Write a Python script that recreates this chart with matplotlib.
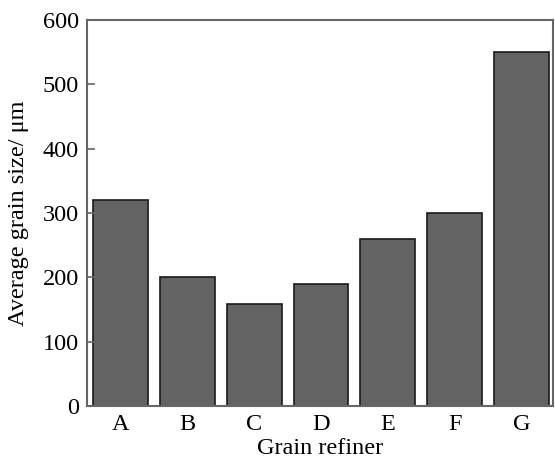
import matplotlib.pyplot as plt

refiners = ['A', 'B', 'C', 'D', 'E', 'F', 'G']
grain_size = [320, 200, 158, 190, 260, 300, 550]

plt.rcParams['font.family'] = ['Liberation Serif', 'DejaVu Serif']

fig = plt.figure(figsize=(5.55, 4.61), dpi=100)
ax = fig.add_axes([87 / 555, 1 - 406 / 461, (553 - 87) / 555, (406 - 20) / 461])

x = range(len(refiners))
ax.bar(x, grain_size, width=0.82, color='#636363', edgecolor='#1a1a1a', linewidth=1.2)

ax.set_xlim(-0.5, 6.47)
ax.set_ylim(0, 600)
ax.set_yticks(range(0, 601, 100))
ax.set_xticks(list(x))
ax.set_xticklabels(refiners)

for s in ax.spines.values():
    s.set_color('#666666')
    s.set_linewidth(1.5)

ax.tick_params(axis='y', direction='in', length=6, width=1.2, color='#666666', labelsize=17.5, pad=6)
ax.tick_params(axis='x', length=0, labelsize=17.5, pad=6)

ax.set_xlabel('Grain refiner', fontsize=17.5, labelpad=2)
ax.set_ylabel('Average grain size/ μm', fontsize=17.5, labelpad=10)

fig.savefig('out.png', dpi=100)
